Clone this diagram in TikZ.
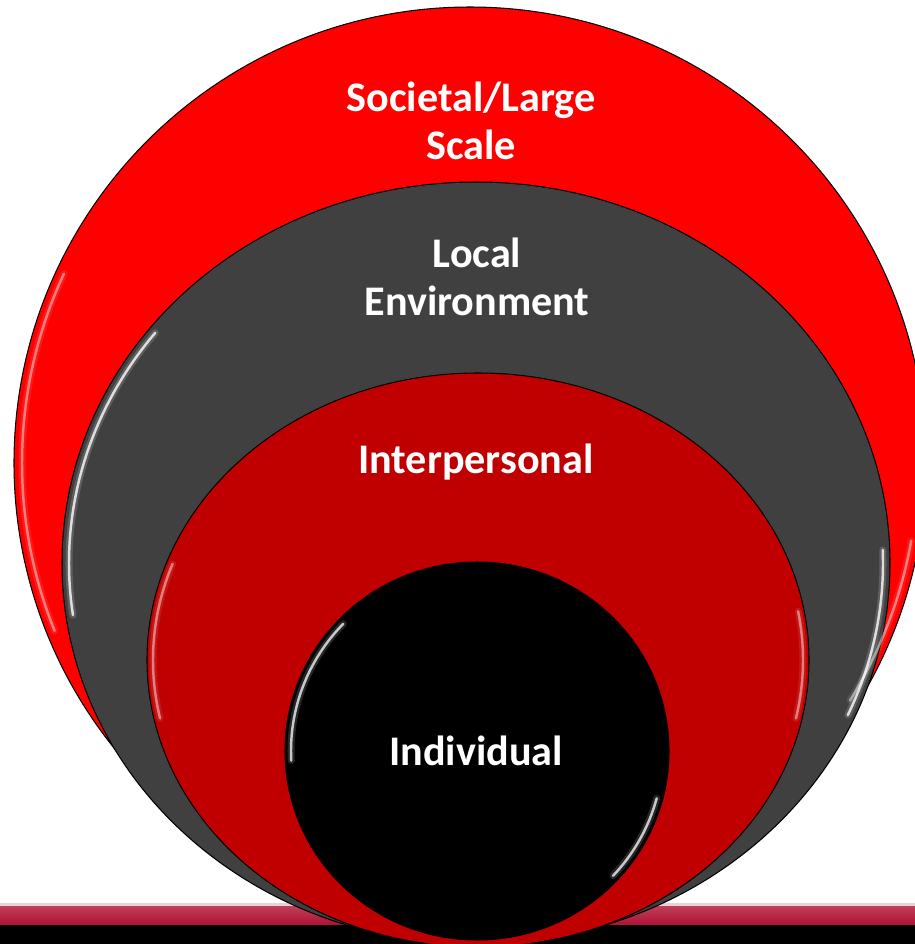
\documentclass[tikz,border=0pt]{standalone}
\usepackage{fontspec}
\setmainfont{Carlito}
\usepackage{tikz}
\usetikzlibrary{arrows}
\definecolor{doTuoi}{RGB}{255,0,0}
\definecolor{xamDam}{RGB}{64,64,64}
\definecolor{doDam}{RGB}{192,0,0}
\definecolor{doBar}{RGB}{176,16,50}
\begin{document}
\begin{tikzpicture}[line cap=round,line join=round,x=0.02cm,y=-0.02cm,
vien/.style={draw=black,line width=0.6pt},
sang/.style={white,line width=1.4pt,opacity=0.6},
nhan/.style={text=white,align=center,font=\bfseries\fontsize{24}{27.5}\selectfont}]
\useasboundingbox (0,0) rectangle (915,944);
\clip (0,0) rectangle (915,944);
% Vẽ thanh ngang ở dưới
\fill[white!80!doBar] (0,903) rectangle (915,907);
\shade[top color=doBar!80!white,bottom color=doBar] (0,906) rectangle (915,925);
\fill[black] (0,925) rectangle (915,944);
% Vẽ các hình tròn (thực ra là elip)
\filldraw[vien,fill=doTuoi] (470,463) circle (456);
\filldraw[vien,fill=xamDam] (476,563) ellipse (414 and 381);
\filldraw[vien,fill=doDam] (478,660) ellipse (331 and 287);
\filldraw[vien,fill=black] (477,751) ellipse (192 and 189);
% Vẽ thêm mấy vệt sáng ở viền
\foreach \cx/\cy/\a/\b/\s/\e/\o in {470/463/448/448/158/205/0.45,
470/463/448/448/10/32/0.45,
476/563/407/374/172/218/0.8,
476/563/407/374/-2/24/0.8,
478/660/325/281/168/200/0.45,
478/660/325/281/-10/12/0.45,
477/751/186/183/177/224/0.75,
477/751/186/183/15/43/0.75}
{
\draw[sang,line width=4pt,opacity=0.2*\o,shift={(\cx,\cy)}] ({\s}:{\a} and {\b})
arc[start angle=\s,end angle=\e,x radius=\a,y radius=\b];
\draw[sang,opacity=\o,shift={(\cx,\cy)}] ({\s}:{\a} and {\b})
arc[start angle=\s,end angle=\e,x radius=\a,y radius=\b];
}
% Điền chữ
\node[nhan] (xahoi) at (471,121) {Societal/Large\\Scale};
\node[nhan] (diaphuong) at (477,277) {Local\\Environment};
\node[nhan] (quanhe) at (476,462) {Interpersonal};
\node[nhan] (canhan) at (476,751) {Individual};
\end{tikzpicture}
\end{document}
